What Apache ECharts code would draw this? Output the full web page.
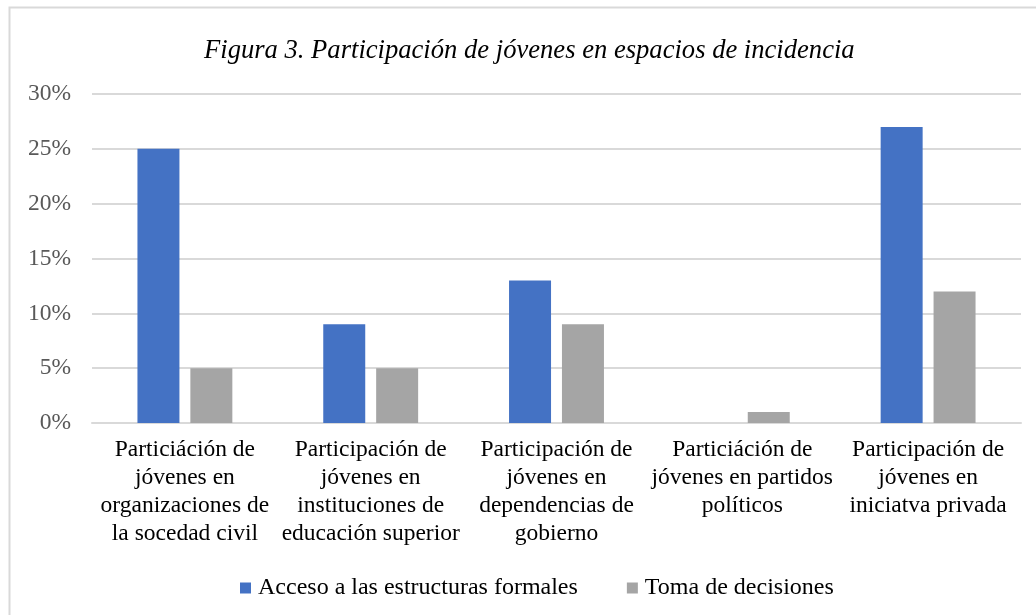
<!DOCTYPE html>
<html>
<head>
<meta charset="utf-8">
<title>Figura 3</title>
<script src="https://cdn.jsdelivr.net/npm/echarts@6/dist/echarts.min.js"></script>
<style>
    html, body { margin: 0; padding: 0; background: #fff; }
    #main { width: 1036px; height: 615px; }
</style>
</head>
<body>
<div id="main"></div>
<script type="text/javascript">
    // categorias (saltos de linea como en la figura)
    var categorias = [
        'Particiáción de\njóvenes en\norganizaciones de\nla socedad civil',
        'Participación de\njóvenes en\ninstituciones de\neducación superior',
        'Participación de\njóvenes en\ndependencias de\ngobierno',
        'Particiáción de\njóvenes en partidos\npolíticos',
        'Participación de\njóvenes en\niniciatva privada'
    ];
    var acceso = [25, 9, 13, 0, 27];
    var toma = [5, 5, 9, 1, 12];
    var ticksY = [0, 5, 10, 15, 20, 25, 30];

    var fuente = '"Liberation Serif", "Times New Roman", serif';
    var chart = echarts.init(document.getElementById('main'));
    var option = {
        animation: false,
        backgroundColor: '#fff',
        color: ['#4472C4', '#A5A5A5'],
        textStyle: { fontFamily: fuente },
        graphic: [{
            type: 'rect',
            shape: { x: 9.5, y: 7.5, width: 1100, height: 700 },
            style: { fill: 'none', stroke: '#D9D9D9', lineWidth: 2 },
            silent: true
        }],
        title: {
            text: 'Figura 3. Participación de jóvenes en espacios de incidencia',
            left: 204,
            top: 37,
            padding: 0,
            textStyle: {
                fontFamily: fuente,
                fontStyle: 'italic',
                fontWeight: 'normal',
                fontSize: 26.6,
                color: '#000'
            }
        },
        legend: {
            data: ['Acceso a las estructuras formales', 'Toma de decisiones'],
            top: 571,
            left: 235,
            itemWidth: 11,
            itemHeight: 11,
            itemGap: 49,
            icon: 'rect',
            textStyle: { fontFamily: fuente, fontSize: 24, color: '#000', padding: [0, 0, 0, 2] }
        },
        grid: {
            left: 92,
            right: 15,
            top: 94,
            bottom: 192,
            containLabel: false
        },
        xAxis: {
            type: 'category',
            data: categorias,
            axisTick: { show: false },
            axisLine: { lineStyle: { color: '#D9D9D9', width: 2 } },
            axisLabel: {
                interval: 0,
                margin: 13,
                fontFamily: fuente,
                fontSize: 23.5,
                lineHeight: 28,
                color: '#000',
                align: 'center'
            }
        },
        yAxis: {
            type: 'value',
            min: ticksY[0],
            max: ticksY[ticksY.length - 1],
            interval: 5,
            axisLine: { show: false },
            axisTick: { show: false },
            splitLine: { lineStyle: { color: '#D9D9D9', width: 2 } },
            axisLabel: {
                margin: 21,
                fontFamily: fuente,
                fontSize: 23.5,
                color: '#595959',
                formatter: '{value}%'
            }
        },
        series: [
            {
                name: 'Acceso a las estructuras formales',
                type: 'bar',
                data: acceso,
                barWidth: '22.6%',
                barGap: '26%'
            },
            {
                name: 'Toma de decisiones',
                type: 'bar',
                data: toma,
                barWidth: '22.6%'
            }
        ]
    };
    chart.setOption(option);
</script>
</body>
</html>
